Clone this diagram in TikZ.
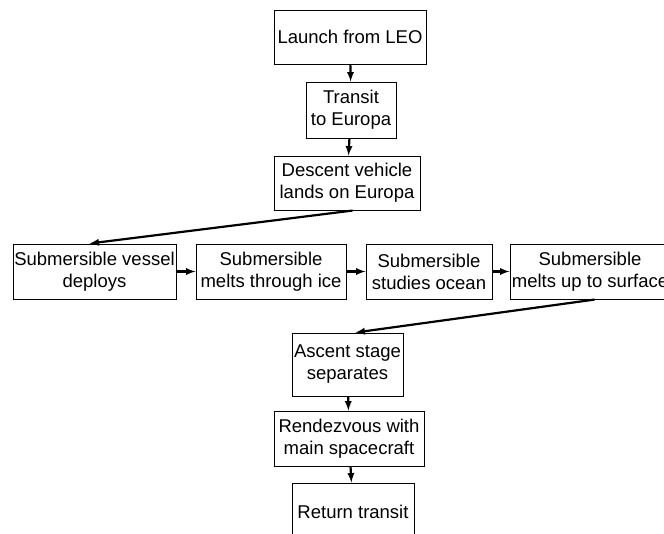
\documentclass[tikz,border=0pt]{standalone}
\usepackage{fontspec}
\setmainfont{Liberation Sans}
\tikzset{>=latex}
\tikzset{stagebox/.style={draw,line width=1pt,align=center,inner sep=1pt,
    font=\fontsize{18.5}{22}\selectfont}}
\tikzset{flow/.style={->,line width=2.2pt,shorten <=0.5pt}}

\begin{document}
\begin{tikzpicture}[x=1pt,y=-1pt]
  \useasboundingbox (0,0) rectangle (664,533);
  \clip (0,0) rectangle (664,533);
  \node[stagebox,minimum width=152,minimum height=54] (launch)  at (350,37)    {Launch from LEO};
  \node[stagebox,minimum width=90, minimum height=56] (transit) at (351,110)   {Transit\\to Europa};
  \node[stagebox,minimum width=146,minimum height=54] (descent) at (347,183)   {Descent vehicle\\lands on Europa};
  \node[stagebox,minimum width=163,minimum height=55] (deploy)  at (94.5,271.5) {Submersible vessel\\deploys};
  \node[stagebox,minimum width=150,minimum height=55] (ice)     at (271,271.5) {Submersible\\melts through ice};
  \node[stagebox,minimum width=126,minimum height=55] (ocean)   at (429,271.5) {Submersible\\studies ocean};
  \node[stagebox,minimum width=160,minimum height=55] (surface) at (590,271.5) {Submersible\\melts up to surface};
  \node[stagebox,minimum width=111,minimum height=63] (ascent)  at (347.5,364.5) {Ascent stage\\separates};
  \node[stagebox,minimum width=150,minimum height=55] (rendez)  at (349,438.5) {Rendezvous with\\main spacecraft};
  \node[stagebox,minimum width=122,minimum height=57] (return)  at (353,511.5) {Return transit};
  % main line
  \draw[flow] (launch) -- (transit);
  \draw[flow] (transit) -- (descent);
  \draw[flow] ([xshift=6pt]descent.south) -- ([xshift=-5pt]deploy.north);
  \draw[flow] (deploy) -- (ice);
  \draw[flow] (ice) -- (ocean);
  \draw[flow] (ocean) -- (surface);
  \draw[flow] ([xshift=5pt]surface.south) -- ([xshift=8pt]ascent.north);
  \draw[flow] (ascent) -- (rendez);
  \draw[flow] (rendez) -- (return);
\end{tikzpicture}
\end{document}
